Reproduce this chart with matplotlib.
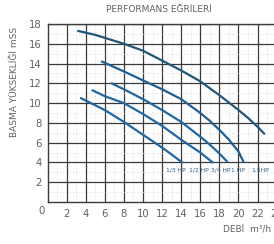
import matplotlib
matplotlib.use("Agg")
import matplotlib.pyplot as plt
import numpy as np

# Data
hp_labels = ["1/3 HP", "1/2 HP", "3/4 HP", "1 HP", "1.5HP"]
label_x = [13.4, 15.9, 18.1, 19.9, 22.3]
label_y = 3.2

q_13 = [3.5, 6.0, 8.0, 10.0, 12.0, 13.0, 14.1]
h_13 = [10.5, 9.3, 8.1, 6.8, 5.5, 4.8, 4.0]

q_12 = [4.7, 6.0, 8.0, 10.0, 12.0, 14.0, 16.0, 17.3]
h_12 = [11.3, 10.7, 10.0, 8.9, 7.7, 6.3, 5.0, 4.0]

q_34 = [6.7, 8.0, 10.0, 12.0, 14.0, 16.0, 17.0, 18.0, 18.8]
h_34 = [12.0, 11.4, 10.4, 9.3, 8.1, 6.6, 5.8, 4.9, 4.1]

q_1 = [5.7, 8.0, 10.0, 12.0, 14.0, 16.0, 17.0, 18.0, 19.0, 20.0, 20.5]
h_1 = [14.2, 13.2, 12.3, 11.4, 10.4, 9.0, 8.2, 7.3, 6.3, 5.1, 4.1]

q_15 = [3.2, 5.0, 6.0, 8.0, 10.0, 12.0, 14.0, 16.0, 18.0, 20.0, 21.0, 22.0, 22.7]
h_15 = [17.3, 16.9, 16.6, 16.0, 15.3, 14.3, 13.3, 12.2, 10.8, 9.3, 8.5, 7.6, 6.9]

x_ticks = [2, 4, 6, 8, 10, 12, 14, 16, 18, 20, 22, 24]
y_ticks = [2, 4, 6, 8, 10, 12, 14, 16, 18]

W, H = 274, 244
fig = plt.figure(figsize=(W / 100, H / 100), dpi=100)
fig.patch.set_facecolor("white")

x0_px, y0_px, ytop_px = 47.5, 202, 24
px_per_x = 9.55
xmax = 26
ax = fig.add_axes([x0_px / W, (H - y0_px) / H, xmax * px_per_x / W, (y0_px - ytop_px) / H])
ax.set_xlim(0, xmax)
ax.set_ylim(0, 18)

grid_c = "#3a3a3a"
txt_c = "#606060"
ax.set_xticks(x_ticks)
ax.set_yticks(y_ticks)
ax.set_xticks(np.arange(1, xmax, 2), minor=True)
ax.set_yticks(np.arange(1, 18, 2), minor=True)
ax.grid(True, which="major", color=grid_c, lw=0.9)
ax.grid(True, which="minor", color="#dcdcdc", lw=0.5, ls=(0, (2, 2)))
ax.tick_params(which="both", length=0)
ax.tick_params(axis="x", pad=5, labelsize=7.3, labelcolor=txt_c)
ax.tick_params(axis="y", pad=4, labelsize=7.3, labelcolor=txt_c)
for s in ax.spines.values():
    s.set_color(grid_c)
    s.set_linewidth(1.0)
ax.set_axisbelow(True)

curves = [(q_13, h_13), (q_12, h_12), (q_34, h_34), (q_1, h_1), (q_15, h_15)]
colors = ["#1f67a3", "#1f67a3", "#1f67a3", "#1d5f96", "#22557a"]
for (q, h), c in zip(curves, colors):
    ax.plot(q, h, color=c, lw=1.6, solid_capstyle="round", solid_joinstyle="round")

for lab, lx in zip(hp_labels, label_x):
    ax.text(lx, label_y, lab, fontsize=4.3, color="#2a5f8a", ha="center", va="center")

fig.text(42 / W, 1 - 211 / H, "0", fontsize=7.3, color=txt_c, ha="center", va="center")
fig.text(159 / W, 1 - 10 / H, "PERFORMANS EĞRİLERİ", fontsize=6.5, color=txt_c,
         ha="center", va="center")
fig.text(15 / W, 1 - 82 / H, "BASMA YÜKSEKLİĞİ mSS", fontsize=6.5, color=txt_c,
         ha="center", va="center", rotation=90)
fig.text(223 / W, 1 - 230 / H, "DEBİ  m³/h", fontsize=6.5, color=txt_c,
         ha="left", va="center")

fig.savefig("out.png", dpi=100, facecolor="white")
